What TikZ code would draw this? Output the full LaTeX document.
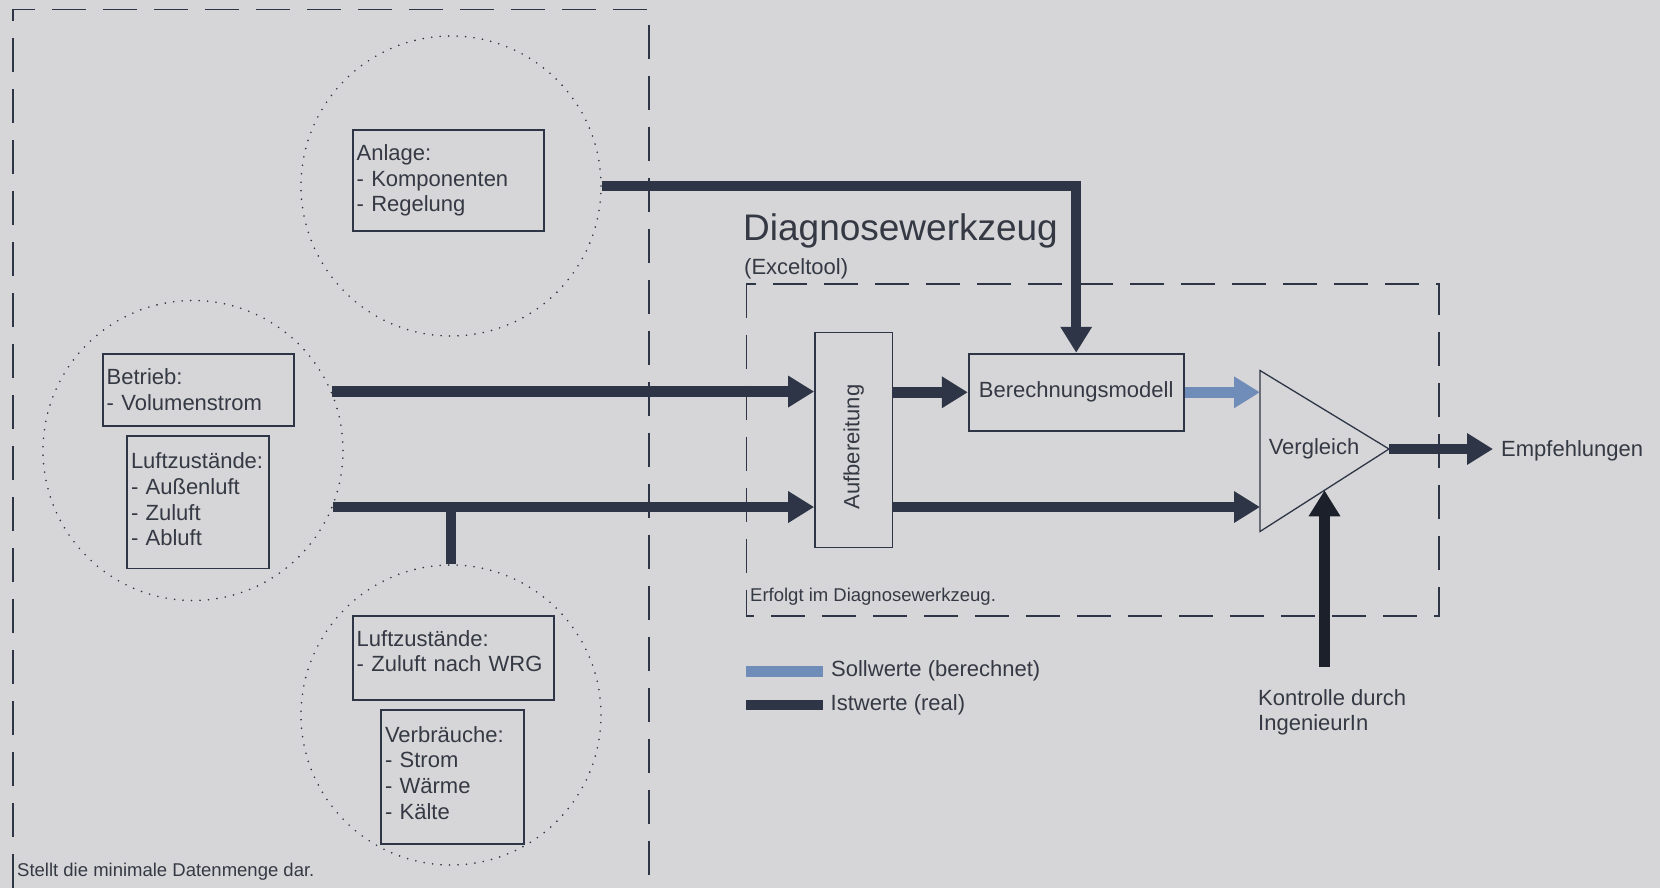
\documentclass[tikz,border=0pt]{standalone}
\usepackage{fontspec}
\setmainfont{Liberation Sans}
\usetikzlibrary{arrows.meta}
\definecolor{bgray}{RGB}{214,214,216}
\definecolor{ink}{RGB}{46,53,70}
\definecolor{inkdark}{RGB}{27,32,43}
\definecolor{sollblue}{RGB}{112,141,185}
\definecolor{textgray}{RGB}{52,57,68}
\hyphenpenalty=10000

\begin{document}
\begin{tikzpicture}[x=1pt, y=-1pt, >={Triangle[length=26pt,width=30pt]},
  every node/.style={text=textgray, font=\fontsize{22}{25.7}\selectfont},
  title/.style={font=\fontsize{37}{42}\selectfont, inner sep=0pt},
  small/.style={font=\fontsize{18.5}{21}\selectfont, inner sep=0pt},
  zone/.style={circle, draw=ink, line width=1.8pt, dash pattern=on 0pt off 8.5pt,
    line cap=round, minimum size=300pt, inner sep=0pt},
  infobox/.style={draw=ink, line width=1.8pt, align=left, inner xsep=4pt, inner ysep=0pt},
  procbox/.style={draw=ink, line width=1.8pt, inner sep=0pt},
  frame/.style={draw=ink, line width=1.8pt, dash pattern=on 34pt off 17pt},
  flow/.style={->, ink, line width=10.5pt}]

  % Background
  \useasboundingbox (0,0) rectangle (1660,888);
  \fill[bgray] (0,0) rectangle (1660,888);

  % Left frame: data
  \draw[frame] (12.7,888) -- (12.7,9.5) -- (649,9.5) -- (649,888);
  \node[small, anchor=west] (stellt) at (17,872) {Stellt die minimale Datenmenge dar.};

  % Dotted circles
  \node[zone] (zanlage) at (451,186) {};
  \node[zone] (zbetrieb) at (193,450.5) {};
  \node[zone] (zverbrauch) at (451,715) {};

  % Data boxes
  \node[infobox, text width=183.6pt, minimum height=100.6pt] (anlage) at (448.4,180.5)
    {Anlage:\\- Komponenten\\- Regelung};
  \node[infobox, text width=183.6pt, minimum height=72pt] (betrieb) at (198.5,389.6)
    {Betrieb:\\- Volumenstrom};
  \node[infobox, text width=134pt, minimum height=132.5pt] (luft) at (198,502.3)
    {Luftzustände:\\- Außenluft\\- Zuluft\\- Abluft\\[-20pt]\mbox{}};
  \node[infobox, text width=193pt, minimum height=84pt] (luftwrg) at (453.2,658)
    {Luftzustände:\\- Zuluft nach WRG\\[-12pt]\mbox{}};
  \node[infobox, text width=135pt, minimum height=134pt] (verbrauch) at (452.5,777)
    {Verbräuche:\\- Strom\\- Wärme\\- Kälte\\[-17pt]\mbox{}};

  % Tool frame
  \draw[frame] (746.4,283.7) rectangle (1438.8,616.2);
  \node[title, anchor=west] (titel) at (743,230.5) {Diagnosewerkzeug};
  \node[anchor=west, inner sep=0pt] (excel) at (744,268.5) {(Exceltool)};
  \node[small, anchor=west] (erfolgt) at (750,597) {Erfolgt im Diagnosewerkzeug.};

  % Tool blocks
  \node[procbox, minimum width=77.5pt, minimum height=215pt] (aufb) at (853.8,439.9) {};
  \node[rotate=90] (aufbtext) at ([yshift=-7pt]aufb.center) {Aufbereitung};
  \node[procbox, minimum width=215pt, minimum height=77.3pt] (berech) at (1076.2,392.3)
    {Berechnungsmodell};

  % Comparator
  \coordinate (vtop) at (1260,370.5);
  \coordinate (vbot) at (1260,531.5);
  \coordinate (vtip) at (1389,449);
  \coordinate (vin) at (1324.5,490.3);
  \draw[ink, line width=1.3pt] (vtop) -- (vtip) -- (vbot) -- cycle;
  \node (verg) at (1314,448.5) {Vergleich};
  \node[anchor=west, inner xsep=8pt] (empf) at (1493,450.5) {Empfehlungen};
  \node[anchor=north west, align=left, inner sep=0pt] (kontrolle) at (1258,689)
    {Kontrolle durch\\IngenieurIn};

  % Flows
  \draw[flow] (zanlage.east) -| (berech.north);
  \draw[flow] (zbetrieb.23) -- (zbetrieb.23 -| aufb.west);
  \draw[flow] (zbetrieb.-22.5) -- (zbetrieb.-22.5 -| aufb.west);
  \draw[ink, line width=10.5pt] (zverbrauch.north) -- (zverbrauch.north |- zbetrieb.-22.5);
  \draw[flow] (aufb.east |- berech.west) -- (berech.west);
  \draw[flow, sollblue] (berech.east) -- (berech.east -| vtop);
  \draw[flow] (aufb.east |- zbetrieb.-22.5) -- (vtop |- zbetrieb.-22.5);
  \draw[flow] (vtip) -- (vtip -| empf.west);
  \draw[flow, inkdark, shorten <=22pt] (kontrolle.north -| vin) -- (vin);

  % Legend
  \draw[sollblue, line width=11pt] (746,671) -- (822.7,671)
    node[anchor=west, inner xsep=3pt] (lsoll) {Sollwerte (berechnet)};
  \draw[ink, line width=10pt] (746,705) -- (822.7,705)
    node[anchor=west, inner xsep=3pt] (list) {Istwerte (real)};
\end{tikzpicture}
\end{document}
